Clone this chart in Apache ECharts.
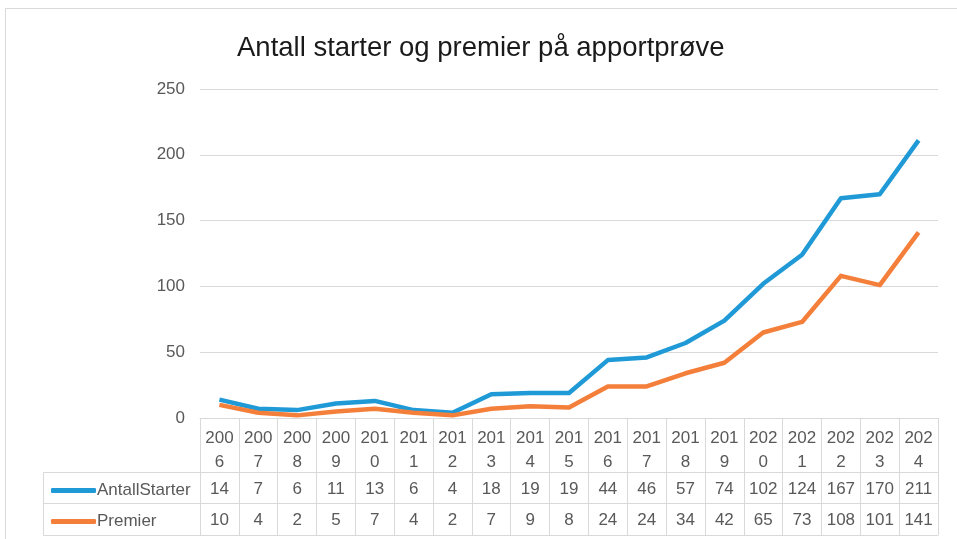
<!DOCTYPE html>
<html><head><meta charset="utf-8">
<script src="https://cdn.jsdelivr.net/npm/echarts@6/dist/echarts.min.js"></script>
<style>html,body{margin:0;padding:0;background:#fff}#c{width:957px;height:539px}</style>
</head><body><div id="c"></div>
<script>
const years = ['2006','2007','2008','2009','2010','2011','2012','2013','2014','2015','2016','2017','2018','2019','2020','2021','2022','2023','2024'];
const antallStarter = [14,7,6,11,13,6,4,18,19,19,44,46,57,74,102,124,167,170,211];
const premier = [10,4,2,5,7,4,2,7,9,8,24,24,34,42,65,73,108,101,141];
const yTicks = [0,50,100,150,200,250];

const FONT = 'Liberation Sans, sans-serif';
const TXT = '#595959';
const GRID = '#d9d9d9';
const BLUE = '#1f9ad6';
const ORANGE = '#f47f3a';

const chart = echarts.init(document.getElementById('c'));
const gl = {left:200, right:19, top:89, bottom:121};
function tableAxis(offset, vals, show){
  return {
    type:'category', data:years, position:'bottom', offset:offset, gridIndex:0,
    axisLine:{show:true, lineStyle:{color:GRID, width:1}},
    axisTick:{show:false},
    axisLabel:{show:show, interval:0, margin:9, fontFamily:FONT, fontSize:17, color:TXT,
      formatter:(v,i)=> vals ? String(vals[i]) : ''},
    splitLine:{show:false}
  };
}
chart.setOption({
  animation:false,
  textStyle:{fontFamily:FONT},
  title:{text:'Antall starter og premier på apportprøve', left:232, top:29,
    textStyle:{fontFamily:FONT, fontSize:27.5, fontWeight:'normal', color:'#1a1a1a'}},
  grid:gl,
  legend:{orient:'vertical', left:46, top:477, itemGap:14, itemWidth:45, itemHeight:5,
    icon:'roundRect', textStyle:{fontFamily:FONT, fontSize:17, color:TXT, padding:[0,0,0,-4]},
    data:['AntallStarter','Premier'], selectedMode:false},
  xAxis:[
    {type:'category', data:years, position:'bottom', boundaryGap:true,
      axisLine:{show:true, lineStyle:{color:GRID}},
      axisTick:{show:true, interval:0, length:117, lineStyle:{color:GRID}},
      axisLabel:{interval:0, margin:8, fontFamily:FONT, fontSize:17, lineHeight:24, color:TXT,
        formatter:v=> v.slice(0,3)+'\n'+v.slice(3)}},
    tableAxis(54, antallStarter, true),
    tableAxis(85, premier, true),
    tableAxis(117, null, false)
  ],
  yAxis:{type:'value', min:yTicks[0], max:yTicks[yTicks.length-1], interval:50,
    axisLine:{show:false}, axisTick:{show:false},
    axisLabel:{margin:15, fontFamily:FONT, fontSize:17, color:TXT},
    splitLine:{lineStyle:{color:GRID, width:1}}},
  series:[
    {name:'AntallStarter', type:'line', data:antallStarter, symbol:'none', xAxisIndex:0,
      lineStyle:{color:BLUE, width:4.5, join:'round'}, itemStyle:{color:BLUE}},
    {name:'Premier', type:'line', data:premier, symbol:'none', xAxisIndex:0,
      lineStyle:{color:ORANGE, width:4.5, join:'round'}, itemStyle:{color:ORANGE}}
  ],
  graphic:[
    {type:'rect', shape:{x:5.5,y:8.5,width:1000,height:600}, style:{fill:null, stroke:GRID, lineWidth:1}, silent:true},
    {type:'line', shape:{x1:43.5,y1:472.5,x2:200,y2:472.5}, style:{stroke:GRID}},
    {type:'line', shape:{x1:43.5,y1:503.5,x2:200,y2:503.5}, style:{stroke:GRID}},
    {type:'line', shape:{x1:43.5,y1:535.5,x2:200,y2:535.5}, style:{stroke:GRID}},
    {type:'line', shape:{x1:43.5,y1:472.5,x2:43.5,y2:535.5}, style:{stroke:GRID}}
  ]
});
</script></body></html>
